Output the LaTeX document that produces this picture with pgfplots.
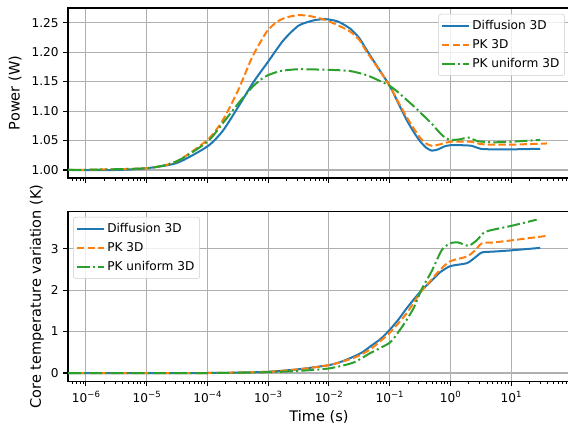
\documentclass[border=0pt]{standalone}
\usepackage{fontspec}
\setmainfont{DejaVu Sans}
\usepackage{pgfplots}
\pgfplotsset{compat=1.18}

\definecolor{c1}{HTML}{1F77B4}
\definecolor{c2}{HTML}{FF7F0E}
\definecolor{c3}{HTML}{2CA02C}
\definecolor{gridc}{HTML}{B0B0B0}

\newcommand{\pw}[1]{10\raisebox{0.45em}{\fontsize{6.4}{7}\selectfont #1}}

\tikzset{
  s1/.style={c1, line width=1.5pt},
  s2/.style={c2, line width=1.5pt, dash pattern=on 5.55pt off 2.4pt},
  s3/.style={c3, line width=1.5pt, dash pattern=on 9.6pt off 2.4pt on 1.5pt off 2.4pt},
}

\pgfplotsset{
  legend image code/.code={\draw[#1] (0pt,0pt) -- (20pt,0pt);},
  panel/.style={
    scale only axis, width=376.5pt, height=127.5pt,
    log basis x=10,
    xmin=5.06e-7, xmax=93.3,
    axis line style={line width=0.8pt},
    grid=major, major grid style={gridc, line width=0.8pt},
    tick align=outside, xtick pos=bottom, ytick pos=left,
    major tick length=3.5pt, minor tick length=2pt,
    tick style={black, line width=0.8pt},
    minor tick style={line width=0.6pt},
    xtick={1e-6,1e-5,1e-4,1e-3,1e-2,1e-1,1,10},
    minor xtick={6e-7,7e-7,8e-7,9e-7,
      2e-6,3e-6,4e-6,5e-6,6e-6,7e-6,8e-6,9e-6,
      2e-5,3e-5,4e-5,5e-5,6e-5,7e-5,8e-5,9e-5,
      2e-4,3e-4,4e-4,5e-4,6e-4,7e-4,8e-4,9e-4,
      2e-3,3e-3,4e-3,5e-3,6e-3,7e-3,8e-3,9e-3,
      2e-2,3e-2,4e-2,5e-2,6e-2,7e-2,8e-2,9e-2,
      0.2,0.3,0.4,0.5,0.6,0.7,0.8,0.9,
      2,3,4,5,6,7,8,9,
      20,30,40,50,60,70,80,90},
    tick label style={font=\fontsize{9.1}{11}\selectfont},
    label style={font=\fontsize{10.9}{13}\selectfont},
    legend style={font=\fontsize{9.1}{11}\selectfont, draw=black!20, rounded corners=2pt,
      fill=white, fill opacity=0.8, text opacity=1, draw opacity=1,
      row sep=2pt, inner xsep=2pt, inner ysep=2.5pt},
    legend cell align=left,
    yticklabel style={/pgf/number format/assume math mode=true},
  },
}

\begin{document}
\begin{tikzpicture}
\useasboundingbox (0,0) rectangle (426pt,323.25pt);

% power
\begin{semilogxaxis}[panel, at={(51pt,189.75pt)}, anchor=south west,
  xticklabels={},
  ymin=0.9864, ymax=1.275,
  ytick={1,1.05,1.1,1.15,1.2,1.25},
  yticklabel style={/pgf/number format/.cd, fixed, fixed zerofill, precision=2},
  ylabel={Power (W)},
  ylabel style={at={(axis description cs:-0.1056,0.5)}, anchor=center},
  legend style={at={(axis description cs:0.99,0.965)}, anchor=north east},
]
\addplot[s1, smooth, tension=0.4] coordinates {
(5.1e-7,1.000) (3.162e-6,1.000) (1e-5,1.003) (3.162e-5,1.012) (1e-4,1.040)
(1.778e-4,1.066) (3.162e-4,1.106) (5.623e-4,1.148) (1e-3,1.184) (1.778e-3,1.220)
(3.162e-3,1.245) (5.623e-3,1.254) (8.913e-3,1.256) (1.413e-2,1.252) (2.239e-2,1.240)
(3.162e-2,1.224) (4.169e-2,1.204) (6.310e-2,1.175) (0.1,1.143) (0.1413,1.112)
(0.1905,1.085) (0.2512,1.064) (0.3162,1.049) (0.3981,1.038) (0.4898,1.033)
(0.6310,1.035) (0.7943,1.040) (1,1.042) (1.585,1.042) (2.239,1.041)
(3.162,1.036) (5.012,1.035) (10,1.035) (30.20,1.036)
};
\addlegendentry{Diffusion 3D}
\addplot[s2, smooth, tension=0.4] coordinates {
(5.1e-7,1.000) (1e-5,1.003) (3.162e-5,1.015) (1e-4,1.051) (1.778e-4,1.084)
(3.162e-4,1.134) (5.370e-4,1.190) (7.943e-4,1.222) (1e-3,1.238) (1.413e-3,1.252)
(1.995e-3,1.259) (3.162e-3,1.263) (5.012e-3,1.261) (7.943e-3,1.256) (1.259e-2,1.248)
(2.239e-2,1.235) (3.162e-2,1.221) (4.169e-2,1.201) (6.310e-2,1.174) (0.1,1.143)
(0.1413,1.114) (0.1905,1.090) (0.2512,1.070) (0.3162,1.055) (0.3981,1.045)
(0.5012,1.041) (0.7079,1.044) (1,1.048) (2.138,1.048) (3.162,1.044)
(5.012,1.043) (10,1.043) (38.90,1.045)
};
\addlegendentry{PK 3D}
\addplot[s3, smooth, tension=0.4] coordinates {
(5.1e-7,1.000) (1e-5,1.003) (3.162e-5,1.015) (1e-4,1.048) (1.778e-4,1.079)
(3.162e-4,1.112) (5.623e-4,1.142) (7.943e-4,1.155) (1e-3,1.161) (1.585e-3,1.168)
(3.162e-3,1.171) (1e-2,1.170) (2.239e-2,1.168) (4.169e-2,1.161) (6.310e-2,1.153)
(0.1,1.143) (0.1413,1.131) (0.1905,1.119) (0.2512,1.108) (0.3162,1.098)
(0.4898,1.079) (0.6310,1.066) (0.7943,1.056) (1,1.051) (1.413,1.052)
(1.995,1.055) (2.818,1.049) (5.012,1.047) (10,1.048) (30.20,1.051)
};
\addlegendentry{PK uniform 3D}
\end{semilogxaxis}

% core temperature
\begin{semilogxaxis}[panel, at={(51pt,37.125pt)}, anchor=south west,
  xticklabels={\pw{−6},\pw{−5},\pw{−4},\pw{−3},\pw{−2},\pw{−1},\pw{0},\pw{1}},
  ymin=-0.205, ymax=3.898,
  ytick={0,1,2,3},
  xlabel={Time (s)},
  xlabel style={at={(axis description cs:0.5,-0.209)}, anchor=center},
  ylabel={Core temperature variation (K)},
  ylabel style={at={(axis description cs:-0.0618,0.5)}, anchor=center},
  legend style={at={(axis description cs:0.01,0.968)}, anchor=north west},
]
\addplot[s1, smooth, tension=0.4] coordinates {
(5.1e-7,0) (1e-4,0.0) (3.162e-4,0.01) (1e-3,0.03) (3.162e-3,0.09)
(1e-2,0.19) (1.585e-2,0.27) (2.512e-2,0.39) (3.548e-2,0.50) (4.786e-2,0.64)
(7.079e-2,0.82) (0.1,1.04) (0.1413,1.30) (0.1905,1.56) (0.2512,1.78)
(0.3388,2.00) (0.5012,2.24) (0.6761,2.43) (1,2.58) (1.862,2.65)
(2.512,2.78) (3.311,2.91) (5.129,2.93) (10,2.96) (30.20,3.02)
};
\addlegendentry{Diffusion 3D}
\addplot[s2, smooth, tension=0.4] coordinates {
(5.1e-7,0) (1e-4,0) (1e-3,0.03) (3.162e-3,0.09) (1e-2,0.19)
(2.512e-2,0.36) (4.786e-2,0.57) (0.1,0.97) (0.1905,1.44) (0.3162,1.93)
(0.5012,2.27) (0.6761,2.49) (1,2.70) (1.862,2.81) (2.512,2.95)
(3.311,3.13) (5.129,3.15) (10,3.20) (38.90,3.31)
};
\addlegendentry{PK 3D}
\addplot[s3, smooth, tension=0.4] coordinates {
(5.1e-7,0) (1e-4,0) (1e-3,0.02) (3.162e-3,0.05) (1e-2,0.11)
(2.512e-2,0.25) (4.786e-2,0.48) (0.1,0.73) (0.1413,1.00) (0.1905,1.28)
(0.2512,1.58) (0.3388,2.03) (0.4898,2.45) (0.7244,2.97) (1,3.13)
(1.349,3.15) (1.995,3.07) (2.754,3.21) (3.802,3.41) (10,3.55) (26.30,3.70)
};
\addlegendentry{PK uniform 3D}
\end{semilogxaxis}
\end{tikzpicture}
\end{document}
